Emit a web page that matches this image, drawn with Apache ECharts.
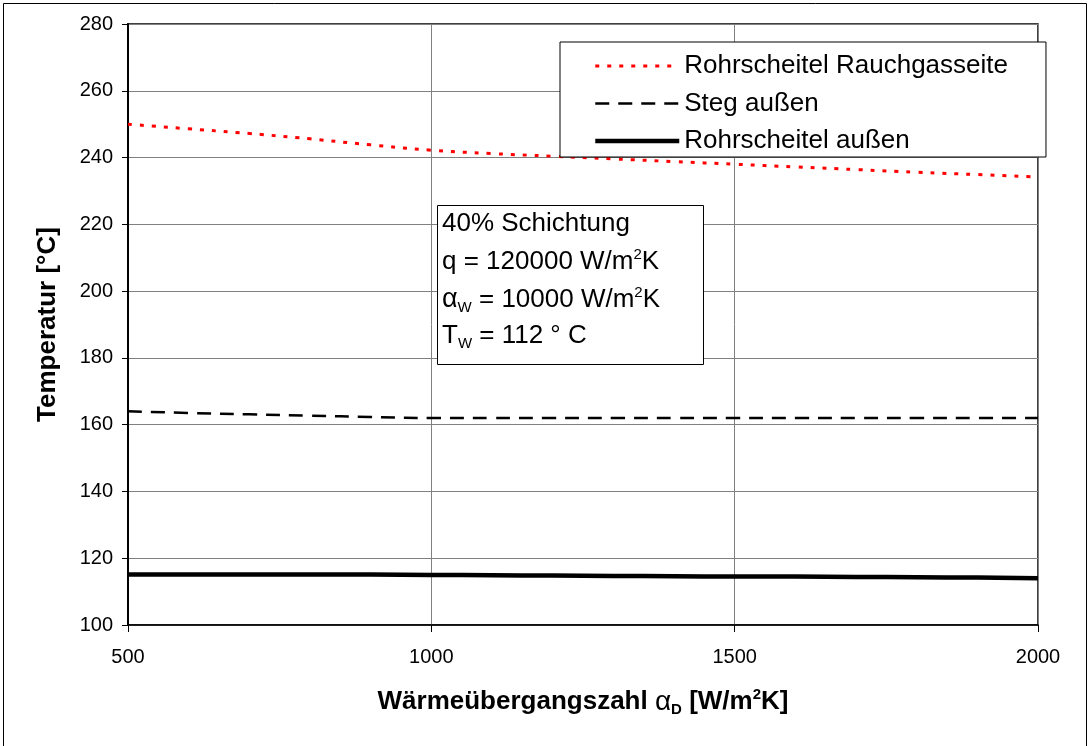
<!DOCTYPE html>
<html><head><meta charset="utf-8">
<script src="https://cdn.jsdelivr.net/npm/echarts@6/dist/echarts.min.js"></script>
<style>html,body{margin:0;padding:0;background:#fff}#c{width:1088px;height:746px}</style>
</head><body><div id="c"></div>
<script>
const xValues = [500,600,700,800,900,1000,1100,1200,1300,1400,1500,1600,1700,1800,1900,2000];
const rauchgas = [250.0,248.6,247.2,245.6,243.8,242.2,241.2,240.4,239.6,238.8,238.0,237.2,236.4,235.6,234.9,234.2];
const steg = [164.0,163.5,163.1,162.7,162.3,162.0,162.0,162.0,162.0,162.0,162.0,162.0,162.0,162.0,162.0,162.0];
const aussen = [115.1,115.1,115.1,115.1,115.1,115.0,114.9,114.8,114.7,114.6,114.5,114.5,114.4,114.3,114.2,114.0];
const names = ['Rohrscheitel Rauchgasseite','Steg außen','Rohrscheitel außen'];
const yTicks = {min:100,max:280,interval:20};
const xTicks = {min:500,max:2000,interval:500};

const pair = (ys) => xValues.map((x,i)=>[x,ys[i]]);
const font = 'Liberation Sans, Arial, sans-serif';
const chart = echarts.init(document.getElementById('c'));
const styles = [
  {color:'#ff0000', width:3, type:[4,8]},
  {color:'#000', width:2.5, type:[14,9]},
  {color:'#000', width:4.5, type:'solid'}
];
const data = [rauchgas, steg, aussen];
const LH = 30;
const boxRich = {
  t:{fontFamily:font,fontSize:26,fill:'#000',lineHeight:LH,verticalAlign:'middle'},
  a:{fontFamily:font,fontSize:27,fill:'#000',lineHeight:LH,verticalAlign:'middle'},
  s:{fontFamily:font,fontSize:15,fill:'#000',lineHeight:15,verticalAlign:'bottom'},
  p:{fontFamily:font,fontSize:15,fill:'#000',lineHeight:13,verticalAlign:'top'}
};
const boxLines = [
  '{t|40% Schichtung}',
  '{t|q = 120000 W/m}{p|2}{t|K}',
  '{a|α}{s|W}{t| = 10000 W/m}{p|2}{t|K}',
  '{t|T}{s|W}{t| = 112 ° C}'
];
const boxTops = [211,247,285,323];
chart.setOption({
  animation:false,
  backgroundColor:'#fff',
  grid:{left:128,right:50,top:24,bottom:121,show:true,borderColor:'#000',borderWidth:1.5,backgroundColor:'#fff'},
  xAxis:{type:'value',min:xTicks.min,max:xTicks.max,interval:xTicks.interval,
    axisLine:{lineStyle:{color:'#000',width:1.5}},
    axisTick:{show:true,length:7,lineStyle:{color:'#000'}},
    axisLabel:{color:'#000',fontFamily:font,fontSize:20,margin:22,formatter:v=>String(v)},
    splitLine:{show:true,lineStyle:{color:'#808080',width:1}},
    name:'{b|Wärmeübergangszahl }{a|α}{s|D}{b| [W/m}{p|2}{b|K]}',
    nameLocation:'middle',nameGap:62,
    nameTextStyle:{fontFamily:font,color:'#000',rich:{
      b:{fontFamily:font,fontSize:26,fontWeight:'bold',color:'#000',lineHeight:LH,verticalAlign:'middle'},
      a:{fontFamily:font,fontSize:28,color:'#000',lineHeight:LH,verticalAlign:'middle'},
      s:{fontFamily:font,fontSize:15,fontWeight:'bold',color:'#000',lineHeight:15,verticalAlign:'bottom'},
      p:{fontFamily:font,fontSize:15,fontWeight:'bold',color:'#000',lineHeight:13,verticalAlign:'top'}
    }}
  },
  yAxis:{type:'value',min:yTicks.min,max:yTicks.max,interval:yTicks.interval,
    axisLine:{show:true,lineStyle:{color:'#000',width:2}},
    axisTick:{show:true,length:6,lineStyle:{color:'#000'}},
    axisLabel:{color:'#000',fontFamily:font,fontSize:20,margin:15,formatter:v=>String(v)},
    splitLine:{show:true,lineStyle:{color:'#808080',width:1}},
    name:'Temperatur [°C]',nameLocation:'middle',nameGap:67,nameRotate:90,
    nameTextStyle:{fontFamily:font,fontSize:26,fontWeight:'bold',color:'#000'}
  },
  legend:{
    orient:'vertical', left:560, top:42,
    backgroundColor:'#fff', borderColor:'#000', borderWidth:1,
    padding:[11,38,3,33], itemGap:11.5, itemWidth:84, itemHeight:26,
    textStyle:{fontFamily:font,fontSize:26,color:'#000'},
    itemStyle:{opacity:0, borderWidth:0},
    data:names.map((n,i)=>({name:n, lineStyle:{width:styles[i].width}}))
  },
  graphic:[
    {type:'rect',left:1,top:1,shape:{width:1083,height:743},style:{fill:'none',stroke:'#000',lineWidth:1},silent:true},
    {type:'rect',left:437,top:205,shape:{width:266,height:159},style:{fill:'#fff',stroke:'#000',lineWidth:1},z:10}
  ].concat(boxLines.map((s,i)=>({type:'text',left:442,top:boxTops[i],z:11,style:{text:s,fontFamily:font,fill:'#000',rich:boxRich}}))),
  series:names.map((n,i)=>({
    name:n,type:'line',data:pair(data[i]),showSymbol:false,symbol:'none',smooth:true,
    lineStyle:{color:styles[i].color,width:styles[i].width,type:styles[i].type},
    itemStyle:{color:styles[i].color},z:3
  }))
});
</script></body></html>
